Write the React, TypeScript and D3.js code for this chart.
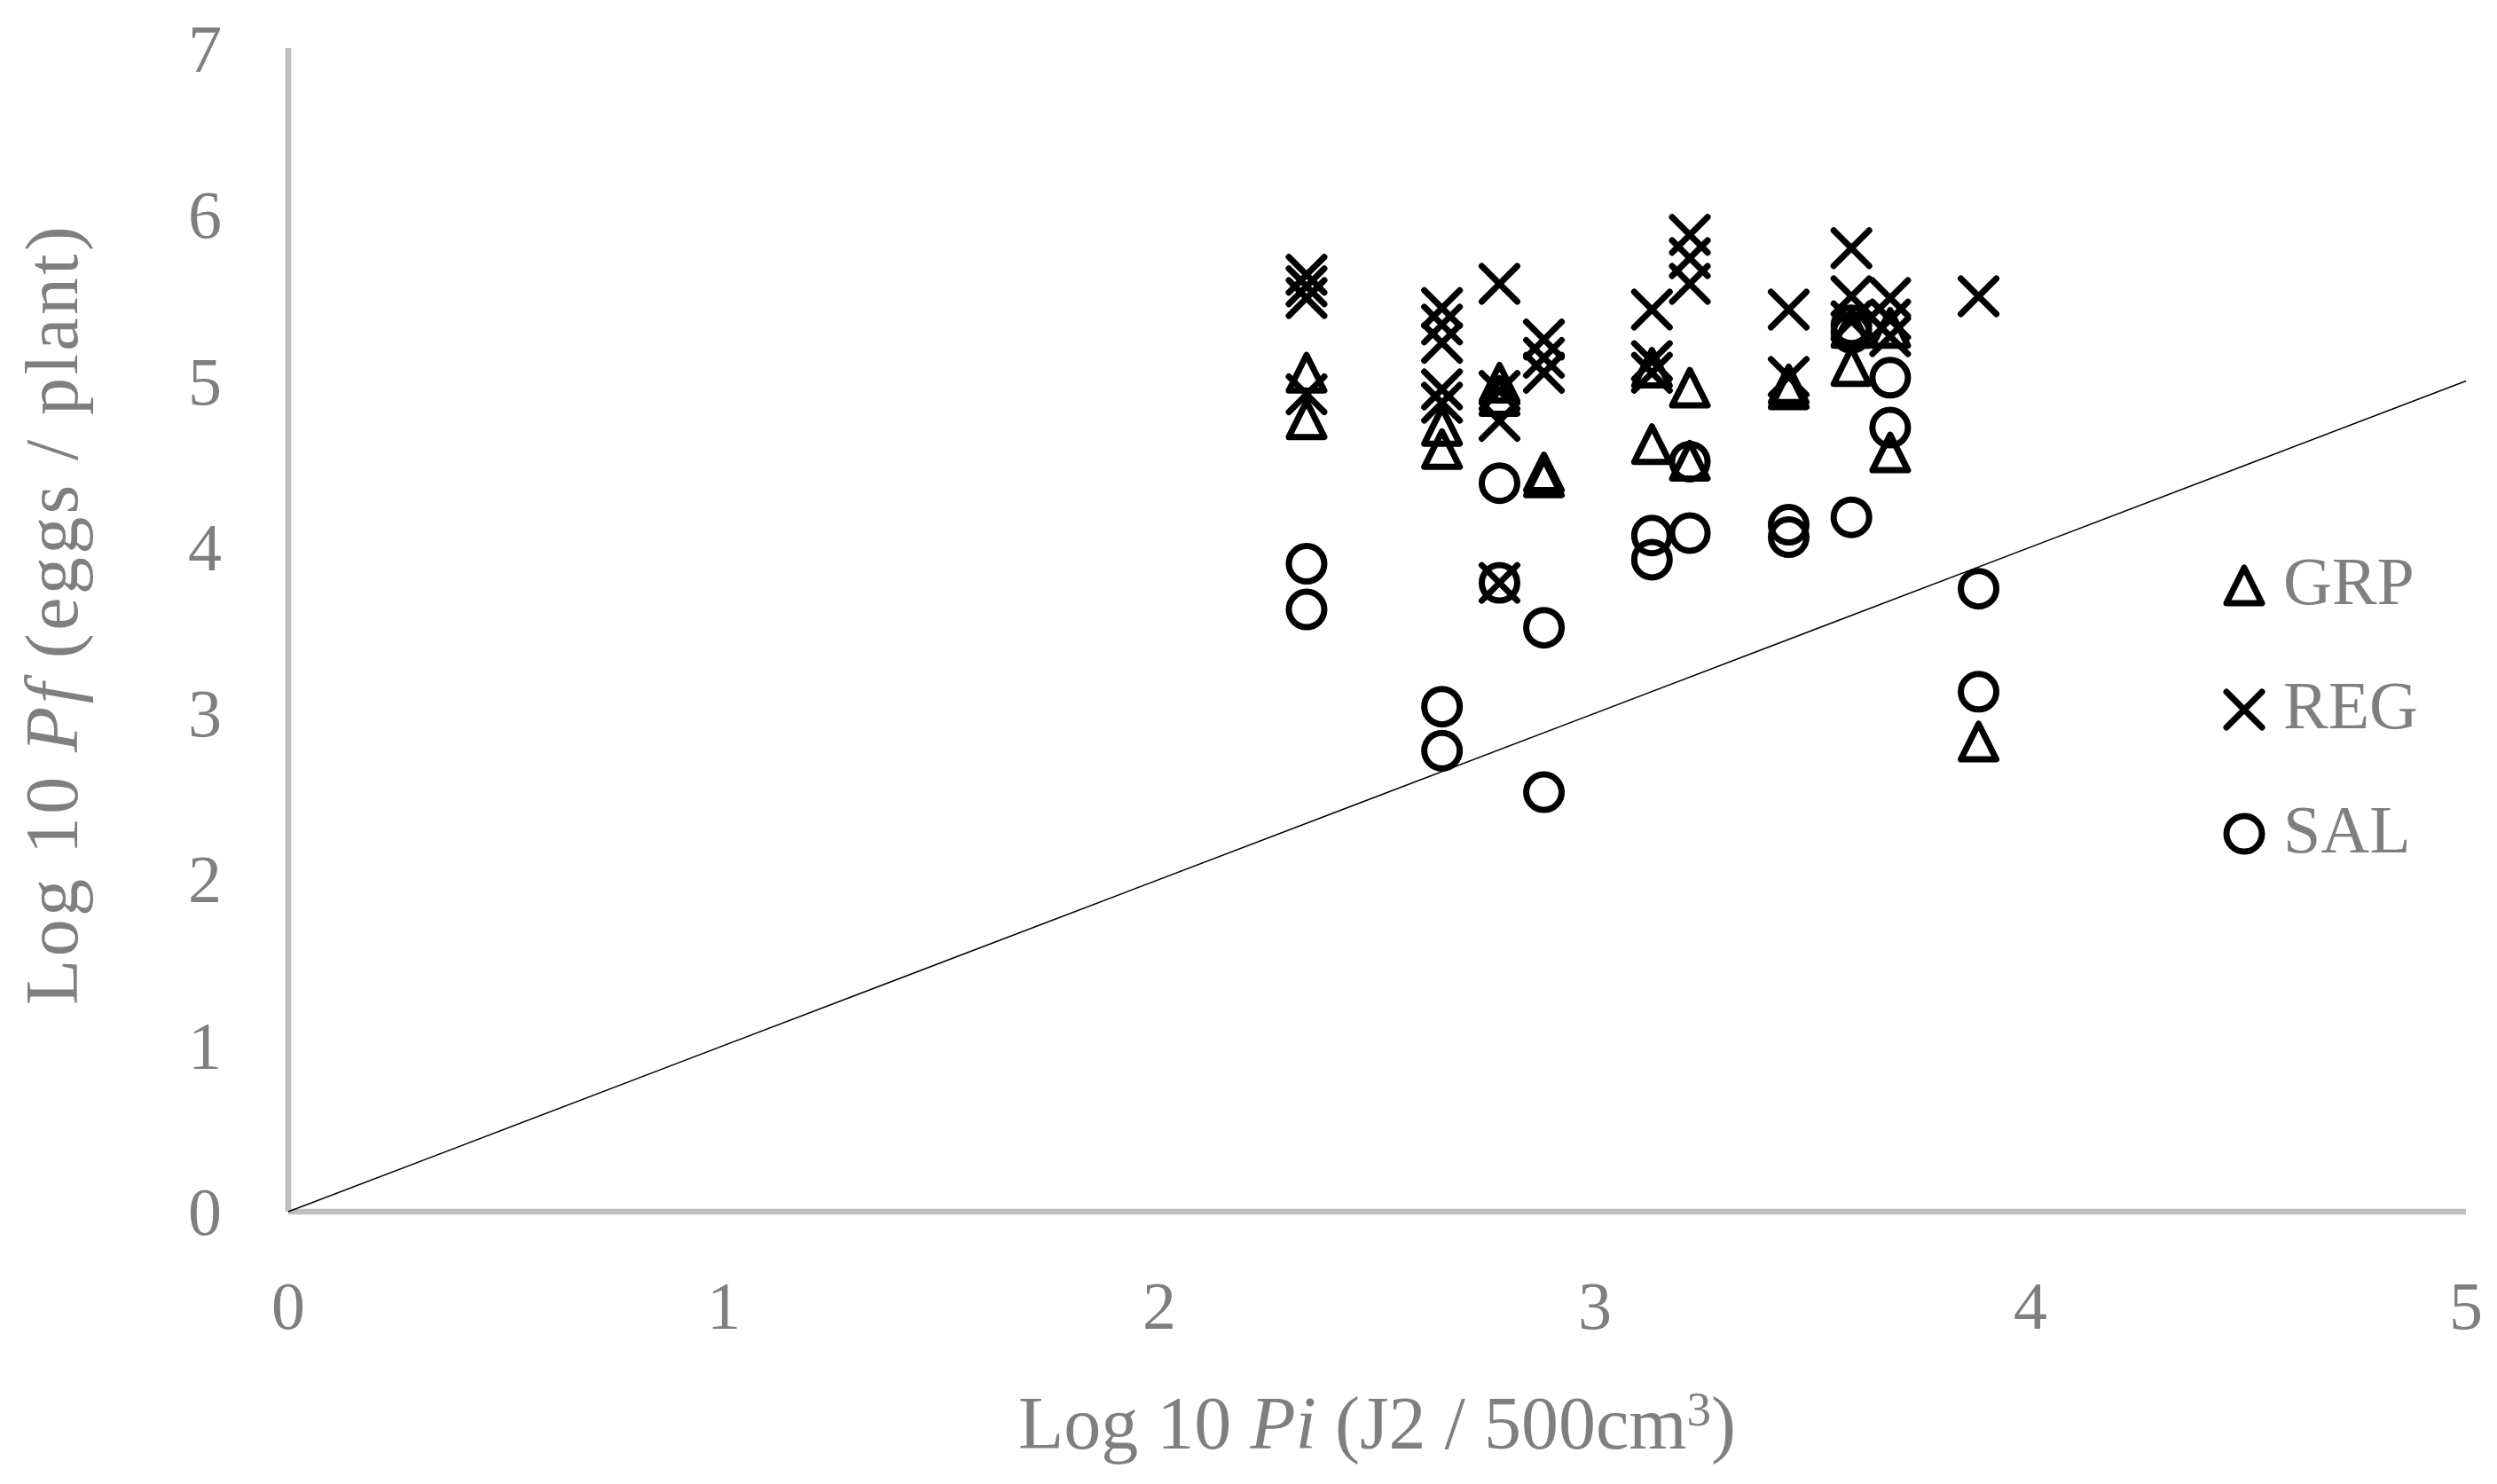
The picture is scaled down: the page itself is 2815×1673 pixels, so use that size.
import React from "react";
import * as d3 from "d3";

const W = 2815;
const H = 1673;

const xTicks = [0, 1, 2, 3, 4, 5];
const yTicks = [0, 1, 2, 3, 4, 5, 6, 7];

const seriesNames = ["GRP", "REG", "SAL"];

const grpPi = [2.338, 2.338, 2.649, 2.649, 2.781, 2.781, 2.883, 2.883, 3.131, 3.131, 3.218, 3.218, 3.445, 3.445, 3.589, 3.589, 3.678, 3.678, 3.881];
const grpPf = [5.05, 4.77, 4.73, 4.59, 4.99, 4.91, 4.45, 4.42, 5.08, 4.62, 4.96, 4.52, 4.98, 4.95, 5.32, 5.09, 5.32, 4.57, 2.83];

const regPi = [2.338, 2.338, 2.338, 2.338, 2.649, 2.649, 2.649, 2.649, 2.649, 2.781, 2.781, 2.781, 2.781, 2.883, 2.883, 2.883, 3.131, 3.131, 3.131, 3.218, 3.218, 3.218, 3.445, 3.445, 3.589, 3.589, 3.589, 3.678, 3.678, 3.678, 3.881];
const regPf = [5.64, 5.57, 5.5, 4.92, 5.44, 5.34, 5.23, 4.95, 4.87, 5.585, 4.94, 4.76, 3.785, 5.25, 5.14, 5.05, 5.43, 5.12, 5.05, 5.88, 5.74, 5.585, 5.43, 5.025, 5.8, 5.51, 5.36, 5.5, 5.37, 5.27, 5.51];

const salPi = [2.338, 2.338, 2.649, 2.649, 2.781, 2.781, 2.883, 2.883, 3.131, 3.131, 3.218, 3.218, 3.445, 3.445, 3.589, 3.589, 3.589, 3.678, 3.678, 3.881, 3.881];
const salPf = [3.9, 3.625, 3.04, 2.775, 4.385, 3.785, 3.515, 2.525, 4.07, 3.925, 4.515, 4.085, 4.135, 4.06, 5.335, 5.29, 4.18, 5.02, 4.72, 3.75, 3.13];

const lineX = [0, 5];
const lineY = [0, 5];

const TEXT = "#7f7f7f";
const AXIS = "#bfbfbf";
const FONT = "'Liberation Serif', 'Times New Roman', serif";
const S = 20;
const SW = 7;

function Marker({ type, x, y }: { type: string; x: number; y: number }) {
  if (type === "GRP") {
    return (
      <path
        d={`M${x},${y - S} L${x + S},${y + S} L${x - S},${y + S} Z`}
        fill="none"
        stroke="#000"
        strokeWidth={SW}
        strokeLinejoin="round"
      />
    );
  }
  if (type === "REG") {
    return (
      <path
        d={`M${x - S},${y - S} L${x + S},${y + S} M${x + S},${y - S} L${x - S},${y + S}`}
        fill="none"
        stroke="#000"
        strokeWidth={SW}
        strokeLinecap="round"
      />
    );
  }
  return <circle cx={x} cy={y} r={S} fill="none" stroke="#000" strokeWidth={SW} />;
}

export default function App() {
  const x = d3.scaleLinear().domain([0, 5]).range([325, 2780]);
  const y = d3.scaleLinear().domain([0, 7]).range([1366, 55]);

  const diag = d3
    .line<number>()
    .x((_, i) => x(lineX[i]))
    .y((_, i) => y(lineY[i]))(lineX);

  const series = [
    { name: "GRP", pi: grpPi, pf: grpPf },
    { name: "REG", pi: regPi, pf: regPf },
    { name: "SAL", pi: salPi, pf: salPf },
  ];

  const legendY = [660, 800, 940];

  return (
    <svg
      width={W}
      height={H}
      style={{ position: "absolute", left: 0, top: 0, background: "#fff" }}
      fontFamily={FONT}
    >
      <rect x={0} y={0} width={W} height={H} fill="#fff" />
      {/* axes */}
      <line x1={x(0)} x2={x(0)} y1={y(7) - 1} y2={y(0)} stroke={AXIS} strokeWidth={6.7} />
      <line x1={x(0)} x2={x(5)} y1={y(0)} y2={y(0)} stroke={AXIS} strokeWidth={6.7} />

      {/* y tick labels */}
      {yTicks.map((t) => (
        <text key={"y" + t} x={250} y={y(t) + 26} textAnchor="end" fontSize={76} fill={TEXT}>
          {t}
        </text>
      ))}
      {/* x tick labels */}
      {xTicks.map((t) => (
        <text key={"x" + t} x={x(t)} y={1498} textAnchor="middle" fontSize={76} fill={TEXT}>
          {t}
        </text>
      ))}

      {/* axis titles */}
      <text x={(x(0) + x(5)) / 2} y={1633} textAnchor="middle" fontSize={84} fill={TEXT}>
        Log 10 <tspan fontStyle="italic">Pi</tspan> (J2 / 500cm
        <tspan fontSize={55} dy={-26}>3</tspan>
        <tspan dy={26}>)</tspan>
      </text>
      <text
        transform={`translate(87, 694) rotate(-90)`}
        textAnchor="middle"
        fontSize={84}
        fill={TEXT}
        textLength={878}
        lengthAdjust="spacing"
      >
        Log 10 <tspan fontStyle="italic">Pf</tspan> (eggs / plant)
      </text>

      {/* 1:1 line */}
      <path d={diag || ""} fill="none" stroke="#000" strokeWidth={1.5} />

      {/* points */}
      {series.map((s) =>
        s.pi.map((p, i) => <Marker key={s.name + i} type={s.name} x={x(p)} y={y(s.pf[i])} />)
      )}

      {/* legend */}
      {seriesNames.map((n, i) => (
        <g key={"leg" + n}>
          <Marker type={n} x={2530} y={legendY[i]} />
          <text x={2574} y={legendY[i] + 21} fontSize={76} fill={TEXT}>
            {n}
          </text>
        </g>
      ))}
    </svg>
  );
}
